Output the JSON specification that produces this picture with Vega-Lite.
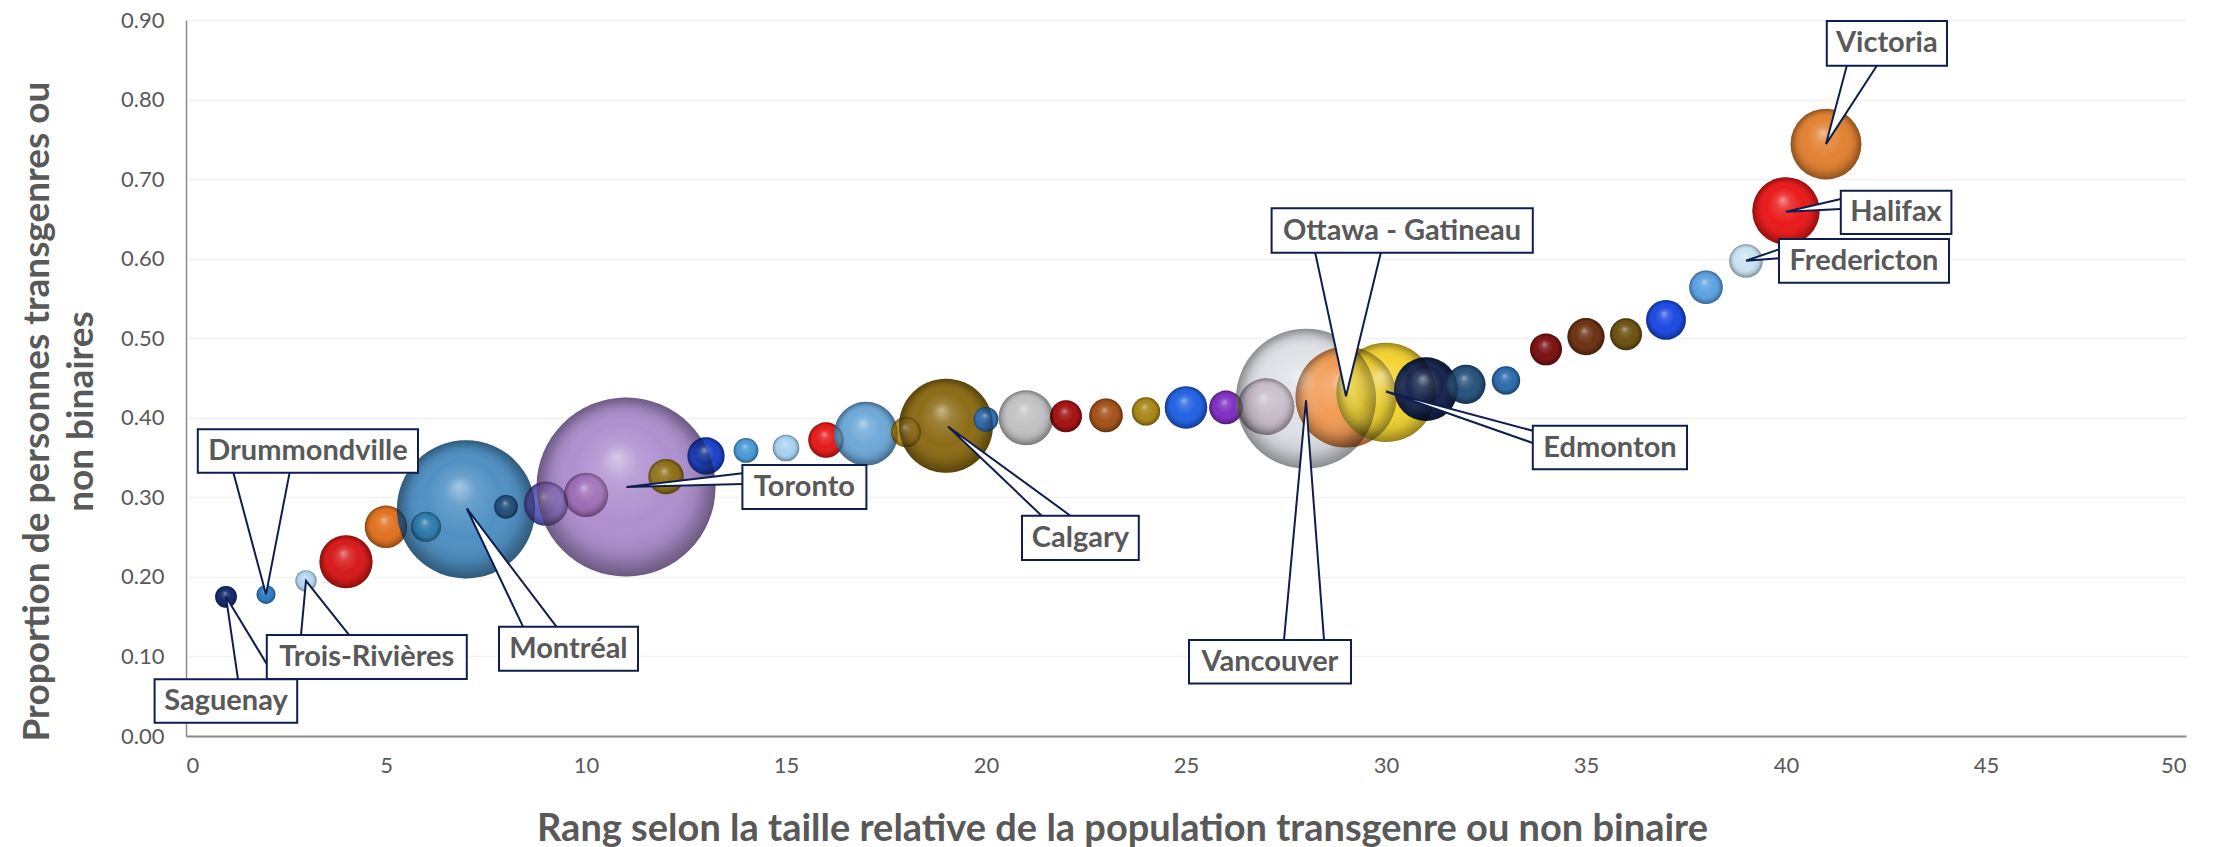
{
  "$schema": "https://vega.github.io/schema/vega-lite/v6.json",
  "width": 2000,
  "height": 716,
  "autosize": "none",
  "padding": {"left": 186, "top": 20, "right": 38, "bottom": 111},
  "background": "white",
  "config": {"view": {"stroke": null}, "font": "Lato"},
  "datasets": {
    "villes": [
      {"rang": 1, "proportion": 0.175, "population": 300, "ville": "Saguenay"},
      {"rang": 2, "proportion": 0.178, "population": 230, "ville": "Drummondville"},
      {"rang": 3, "proportion": 0.195, "population": 290, "ville": "Trois-Rivières"},
      {"rang": 4, "proportion": 0.219, "population": 1800},
      {"rang": 5, "proportion": 0.263, "population": 1150},
      {"rang": 6, "proportion": 0.263, "population": 580},
      {"rang": 7, "proportion": 0.285, "population": 12170, "ville": "Montréal"},
      {"rang": 8, "proportion": 0.288, "population": 360},
      {"rang": 9, "proportion": 0.292, "population": 1250},
      {"rang": 10, "proportion": 0.303, "population": 1250},
      {"rang": 11, "proportion": 0.313, "population": 20400, "ville": "Toronto"},
      {"rang": 12, "proportion": 0.326, "population": 800},
      {"rang": 13, "proportion": 0.352, "population": 880},
      {"rang": 14, "proportion": 0.359, "population": 390},
      {"rang": 15, "proportion": 0.362, "population": 450},
      {"rang": 16, "proportion": 0.372, "population": 800},
      {"rang": 17, "proportion": 0.38, "population": 2590},
      {"rang": 18, "proportion": 0.382, "population": 580},
      {"rang": 19, "proportion": 0.39, "population": 5620, "ville": "Calgary"},
      {"rang": 20, "proportion": 0.398, "population": 390},
      {"rang": 21, "proportion": 0.4, "population": 1920},
      {"rang": 22, "proportion": 0.402, "population": 650},
      {"rang": 23, "proportion": 0.403, "population": 720},
      {"rang": 24, "proportion": 0.408, "population": 510},
      {"rang": 25, "proportion": 0.413, "population": 1150},
      {"rang": 26, "proportion": 0.413, "population": 720},
      {"rang": 27, "proportion": 0.414, "population": 2050},
      {"rang": 28, "proportion": 0.424, "population": 12480, "ville": "Vancouver"},
      {"rang": 29, "proportion": 0.426, "population": 6500, "ville": "Ottawa - Gatineau"},
      {"rang": 30, "proportion": 0.432, "population": 6270, "ville": "Edmonton"},
      {"rang": 31, "proportion": 0.436, "population": 2590},
      {"rang": 32, "proportion": 0.442, "population": 970},
      {"rang": 33, "proportion": 0.447, "population": 510},
      {"rang": 34, "proportion": 0.486, "population": 650},
      {"rang": 35, "proportion": 0.502, "population": 880},
      {"rang": 36, "proportion": 0.505, "population": 650},
      {"rang": 37, "proportion": 0.523, "population": 1010},
      {"rang": 38, "proportion": 0.564, "population": 720},
      {"rang": 39, "proportion": 0.597, "population": 720, "ville": "Fredericton"},
      {"rang": 40, "proportion": 0.66, "population": 2890, "ville": "Halifax"},
      {"rang": 41, "proportion": 0.744, "population": 3200, "ville": "Victoria"}
    ],
    "callouts": [
      {"ville": "Saguenay", "bx1": -0.785, "bx2": 2.78, "by1": 0.0713, "by2": 0.0167, "cx": 1.0, "cy": 0.044},
      {"ville": "Trois-Rivières", "bx1": 2.02, "bx2": 7.02, "by1": 0.127, "by2": 0.0716, "cx": 4.52, "cy": 0.0993},
      {"ville": "Drummondville", "bx1": 0.295, "bx2": 5.8, "by1": 0.3855, "by2": 0.331, "cx": 3.05, "cy": 0.358},
      {"ville": "Montréal", "bx1": 7.825, "bx2": 11.3, "by1": 0.1374, "by2": 0.0821, "cx": 9.56, "cy": 0.1098},
      {"ville": "Toronto", "bx1": 13.91, "bx2": 17.01, "by1": 0.3406, "by2": 0.2853, "cx": 15.46, "cy": 0.313},
      {"ville": "Calgary", "bx1": 20.9, "bx2": 23.82, "by1": 0.2769, "by2": 0.2212, "cx": 22.36, "cy": 0.249},
      {"ville": "Ottawa - Gatineau", "bx1": 27.14, "bx2": 33.67, "by1": 0.6633, "by2": 0.6075, "cx": 30.4, "cy": 0.6354},
      {"ville": "Vancouver", "bx1": 25.075, "bx2": 29.125, "by1": 0.1207, "by2": 0.066, "cx": 27.1, "cy": 0.0934},
      {"ville": "Edmonton", "bx1": 33.67, "bx2": 37.525, "by1": 0.39, "by2": 0.3352, "cx": 35.6, "cy": 0.3626},
      {"ville": "Victoria", "bx1": 41.02, "bx2": 44.025, "by1": 0.8987, "by2": 0.8425, "cx": 42.52, "cy": 0.8706},
      {"ville": "Halifax", "bx1": 41.37, "bx2": 44.135, "by1": 0.6854, "by2": 0.631, "cx": 42.75, "cy": 0.6582},
      {"ville": "Fredericton", "bx1": 39.825, "bx2": 44.075, "by1": 0.6247, "by2": 0.5698, "cx": 41.95, "cy": 0.5973}
    ],
    "wedges": [
      {"ville": "Saguenay", "k": 0, "x": 1.3, "y": 0.0713},
      {"ville": "Saguenay", "k": 1, "x": 1.0, "y": 0.175},
      {"ville": "Saguenay", "k": 2, "x": 2.25, "y": 0.0713},
      {"ville": "Trois-Rivières", "k": 0, "x": 2.875, "y": 0.127},
      {"ville": "Trois-Rivières", "k": 1, "x": 3.0, "y": 0.195},
      {"ville": "Trois-Rivières", "k": 2, "x": 4.075, "y": 0.127},
      {"ville": "Drummondville", "k": 0, "x": 1.185, "y": 0.331},
      {"ville": "Drummondville", "k": 1, "x": 2.0, "y": 0.178},
      {"ville": "Drummondville", "k": 2, "x": 2.59, "y": 0.331},
      {"ville": "Montréal", "k": 0, "x": 8.425, "y": 0.1374},
      {"ville": "Montréal", "k": 1, "x": 7.02, "y": 0.286},
      {"ville": "Montréal", "k": 2, "x": 9.26, "y": 0.1374},
      {"ville": "Toronto", "k": 0, "x": 13.91, "y": 0.3302},
      {"ville": "Toronto", "k": 1, "x": 11.01, "y": 0.313},
      {"ville": "Toronto", "k": 2, "x": 13.91, "y": 0.3167},
      {"ville": "Calgary", "k": 0, "x": 21.39, "y": 0.2769},
      {"ville": "Calgary", "k": 1, "x": 19.05, "y": 0.389},
      {"ville": "Calgary", "k": 2, "x": 22.11, "y": 0.2769},
      {"ville": "Ottawa - Gatineau", "k": 0, "x": 28.23, "y": 0.6075},
      {"ville": "Ottawa - Gatineau", "k": 1, "x": 29.0, "y": 0.427},
      {"ville": "Ottawa - Gatineau", "k": 2, "x": 29.87, "y": 0.6075},
      {"ville": "Vancouver", "k": 0, "x": 27.45, "y": 0.1207},
      {"ville": "Vancouver", "k": 1, "x": 28.0, "y": 0.422},
      {"ville": "Vancouver", "k": 2, "x": 28.45, "y": 0.1207},
      {"ville": "Edmonton", "k": 0, "x": 33.67, "y": 0.3837},
      {"ville": "Edmonton", "k": 1, "x": 30.0, "y": 0.433},
      {"ville": "Edmonton", "k": 2, "x": 33.67, "y": 0.3683},
      {"ville": "Victoria", "k": 0, "x": 41.52, "y": 0.8425},
      {"ville": "Victoria", "k": 1, "x": 41.0, "y": 0.744},
      {"ville": "Victoria", "k": 2, "x": 42.27, "y": 0.8425},
      {"ville": "Halifax", "k": 0, "x": 41.37, "y": 0.675},
      {"ville": "Halifax", "k": 1, "x": 40.0, "y": 0.659},
      {"ville": "Halifax", "k": 2, "x": 41.37, "y": 0.6624},
      {"ville": "Fredericton", "k": 0, "x": 39.825, "y": 0.6117},
      {"ville": "Fredericton", "k": 1, "x": 39.0, "y": 0.5974},
      {"ville": "Fredericton", "k": 2, "x": 39.825, "y": 0.6004}
    ]
  },
  "layer": [
    {
      "data": {"name": "villes"},
      "mark": {"type": "circle", "stroke": null},
      "encoding": {
        "x": {
          "field": "rang", "type": "quantitative",
          "scale": {"domain": [0, 50], "nice": false, "zero": false},
          "axis": {
            "values": [0, 5, 10, 15, 20, 25, 30, 35, 40, 45, 50],
            "title": "Rang selon la taille relative de la population transgenre ou non binaire",
            "grid": false, "ticks": false,
            "domainColor": "#8c8c8c", "domainWidth": 2,
            "labelFont": "Lato", "labelFontSize": 22, "labelColor": "#595959", "labelPadding": 19,
            "titleFont": "Lato", "titleFontSize": 38, "titleFontWeight": "bold", "titleColor": "#595959", "titlePadding": 34,
            "titleX": 936
          }
        },
        "y": {
          "field": "proportion", "type": "quantitative",
          "scale": {"domain": [0, 0.9], "nice": false},
          "axis": {
            "values": [0, 0.1, 0.2, 0.3, 0.4, 0.5, 0.6, 0.7, 0.8, 0.9],
            "format": ".2f",
            "title": ["Proportion de personnes transgenres ou", "non binaires"],
            "grid": true, "gridColor": "#f2f2f2", "gridWidth": 1.5, "ticks": false,
            "domainColor": "#8c8c8c", "domainWidth": 1.5,
            "labelFont": "Lato", "labelFontSize": 22, "labelColor": "#595959", "labelPadding": 22,
            "titleFont": "Lato", "titleFontSize": 37, "titleFontWeight": "bold", "titleColor": "#595959", "titlePadding": 20, "titleLineHeight": 44,
            "titleY": 391
          }
        },
        "size": {
          "field": "population", "type": "quantitative",
          "scale": {"type": "linear", "domain": [0, 20000], "range": [0, 31416], "zero": true},
          "legend": null
        },
        "color": {
          "field": "rang", "type": "ordinal",
          "scale": {
            "domain": [1,2,3,4,5,6,7,8,9,10,11,12,13,14,15,16,17,18,19,20,21,22,23,24,25,26,27,28,29,30,31,32,33,34,35,36,37,38,39,40,41],
            "range": ["#15296b","#2f7cc0","#b5d6f0","#d61a1a","#e0721f","#3d8a8f","#2878b6","#1e4c78","#5b60c0","#9e2d68","#9c78c4","#8c6c12","#1b42c8","#4a9ad8","#a9d2f2","#e51b1b","#6ea9d8","#b39222","#8c6c16","#3072b8","#c2c2c2","#a31212","#a4521a","#a88818","#2262e2","#8030c2","#c9a3b3","#c8cdd6","#f29a52","#f2d332","#16244c","#26527c","#2c6cac","#7c1212","#6c3212","#6c5212","#1c4ae2","#5ca2e2","#cae2f2","#ea1a1a","#e28232"]
          },
          "legend": null
        },
        "opacity": {
          "condition": [
            {"test": "datum.rang == 28", "value": 0.6},
            {"test": "datum.population > 10000", "value": 0.82}
          ],
          "value": 1
        },
        "order": {"field": "rang", "type": "quantitative"}
      }
    },
    {
      "data": {"name": "villes"},
      "mark": {
        "type": "circle",
        "opacity": 1,
        "fill": {
          "gradient": "radial",
          "x1": 0.45, "y1": 0.33, "r1": 0,
          "x2": 0.5, "y2": 0.5, "r2": 0.5,
          "stops": [
            {"offset": 0, "color": "rgba(255,255,255,0.5)"},
            {"offset": 0.22, "color": "rgba(255,255,255,0.15)"},
            {"offset": 0.55, "color": "rgba(255,255,255,0)"},
            {"offset": 0.82, "color": "rgba(0,0,0,0.1)"},
            {"offset": 1, "color": "rgba(0,0,0,0.38)"}
          ]
        }
      },
      "encoding": {
        "x": {"field": "rang", "type": "quantitative"},
        "y": {"field": "proportion", "type": "quantitative"},
        "size": {"field": "population", "type": "quantitative", "legend": null},
        "order": {"field": "rang", "type": "quantitative"}
      }
    },
    {
      "data": {"name": "wedges"},
      "mark": {"type": "line", "fill": "white", "stroke": "#0e1f4f", "strokeWidth": 2, "strokeJoin": "miter"},
      "encoding": {
        "x": {"field": "x", "type": "quantitative"},
        "y": {"field": "y", "type": "quantitative"},
        "detail": {"field": "ville", "type": "nominal"},
        "order": {"field": "k", "type": "quantitative"}
      }
    },
    {
      "data": {"name": "callouts"},
      "mark": {"type": "rect", "fill": "white", "stroke": "#0e1f4f", "strokeWidth": 2},
      "encoding": {
        "x": {"field": "bx1", "type": "quantitative"},
        "x2": {"field": "bx2"},
        "y": {"field": "by1", "type": "quantitative"},
        "y2": {"field": "by2"}
      }
    },
    {
      "data": {"name": "callouts"},
      "mark": {"type": "text", "font": "Lato", "fontWeight": "bold", "fontSize": 29, "color": "#595959", "align": "center", "baseline": "middle"},
      "encoding": {
        "x": {"field": "cx", "type": "quantitative"},
        "y": {"field": "cy", "type": "quantitative"},
        "text": {"field": "ville", "type": "nominal"}
      }
    }
  ]
}
